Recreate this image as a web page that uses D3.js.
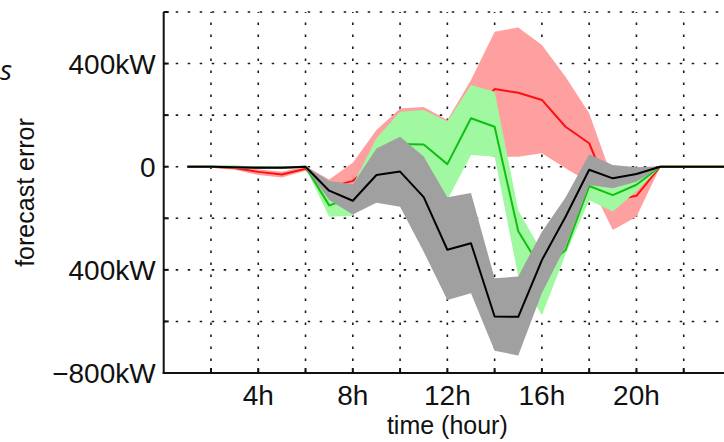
<!DOCTYPE html>
<html>
<head>
<meta charset="utf-8">
<script src="https://cdn.jsdelivr.net/npm/d3@7"></script>
<style>
  html, body { margin: 0; padding: 0; background: #fff; }
  svg { display: block; }
  text { font-family: "Liberation Sans", Arial, sans-serif; fill: #111; }
</style>
</head>
<body>
<svg id="chart" width="724" height="442"></svg>
<script>
// Hour of day for each sample
const hours = [1,2,3,4,5,6,7,8,9,10,11,12,13,14,15,16,17,18,19,20,21,22,23,24];

// Forecast error (kW): red method, mean and spread
const redMean  = [0,0,-5,-20,-30,-8,-80,-55,20,80,100,130,200,301,287,259,155,91,-130,-113,0,0,0,0];
const redHigh  = [4,4,2,-10,-20,2,-50,15,142,226,232,181,336,523,540,472,349,207,-50,-60,2,2,2,2];
const redLow   = [-4,-4,-12,-32,-42,-16,-130,-120,-60,-20,-20,-50,50,39,39,52,-6,-60,-245,-194,-2,-2,-2,-2];

// Green method
const greenMean = [0,0,0,-2,-3,0,-150,-120,-20,88,86,10,188,155,-250,-400,-323,-75,-110,-70,0,0,0,0];
const greenHigh = [4,4,3,2,2,3,-100,-70,110,213,220,175,317,291,-170,-330,-200,-30,-60,-40,2,2,2,2];
const greenLow  = [-4,-4,-6,-8,-8,-4,-194,-190,-80,-40,-50,-129,45,40,-426,-575,-340,-130,-174,-95,-2,-2,-2,-2];

// Black method
const blackMean = [0,0,-2,-4,-4,0,-93,-132,-32,-19,-118,-322,-297,-581,-582,-362,-194,-12,-45,-28,0,0,0,0];
const blackHigh = [4,4,3,2,2,3,-55,-68,71,116,40,-118,-102,-433,-426,-252,-119,48,7,-2,2,2,2,2];
const blackLow  = [-4,-4,-6,-9,-9,-4,-129,-185,-140,-155,-330,-517,-491,-714,-732,-490,-309,-71,-84,-58,-2,-2,-2,-2];

// Axis ticks and labels
const xTicks = [2,4,6,8,10,12,14,16,18,20,22,24];
const xLabels = {4: "4h", 8: "8h", 12: "12h", 16: "16h", 20: "20h"};
const yTicks = [-800,-600,-400,-200,0,200,400,600];
const yLabels = {400: "400kW", 0: "0", "-400": "400kW", "-800": "\u2212800kW"};

const svg = d3.select("#chart");
const pLeft = 163.7, pRight = 731, pTop = 12, pBottom = 373;

const x = d3.scaleLinear().domain([0, 24]).range([pLeft, pRight]);
const y = d3.scaleLinear().domain([-800, 600]).range([pBottom, pTop]);

// Dotted grid
const grid = svg.append("g")
  .attr("stroke", "#1a1a1a").attr("stroke-width", 1.6)
  .attr("stroke-dasharray", "2.5,9.5");
grid.selectAll("line.v").data(xTicks).join("line")
  .attr("x1", d => x(d)).attr("x2", d => x(d))
  .attr("y1", pBottom).attr("y2", pTop);
grid.selectAll("line.h").data(yTicks.filter(d => d > -800)).join("line")
  .attr("x1", pLeft).attr("x2", pRight)
  .attr("y1", d => y(d)).attr("y2", d => y(d));

svg.append("defs").append("clipPath").attr("id", "plot")
  .append("rect").attr("x", pLeft).attr("y", pTop)
  .attr("width", pRight - pLeft).attr("height", pBottom - pTop);

const plot = svg.append("g").attr("clip-path", "url(#plot)");

const area = (hi, lo) => d3.area()
  .x((d, i) => x(hours[i]))
  .y0((d, i) => y(lo[i]))
  .y1((d, i) => y(hi[i]))(hours);
const line = vals => d3.line()
  .x((d, i) => x(hours[i]))
  .y(d => y(d))(vals);

const series = [
  {hi: redHigh, lo: redLow, mean: redMean, fill: "#ffa0a0", stroke: "#ff1010"},
  {hi: greenHigh, lo: greenLow, mean: greenMean, fill: "#a0f8a0", stroke: "#10c010"},
  {hi: blackHigh, lo: blackLow, mean: blackMean, fill: "#a0a0a0", stroke: "#000000"}
];
series.forEach(s => {
  plot.append("path").attr("d", area(s.hi, s.lo)).attr("fill", s.fill);
  plot.append("path").attr("d", line(s.mean)).attr("fill", "none")
    .attr("stroke", s.stroke).attr("stroke-width", 2).attr("stroke-linejoin", "round");
});

// Axes with inward ticks
const axes = svg.append("g").attr("stroke", "#111").attr("stroke-width", 2);
axes.append("line").attr("x1", pLeft).attr("x2", pLeft).attr("y1", pTop).attr("y2", pBottom + 1);
axes.append("line").attr("x1", pLeft - 1).attr("x2", pRight).attr("y1", pBottom).attr("y2", pBottom);
axes.selectAll("line.yt").data(yTicks).join("line")
  .attr("x1", pLeft).attr("x2", pLeft + 5)
  .attr("y1", d => y(d)).attr("y2", d => y(d));
axes.selectAll("line.xt").data(xTicks).join("line")
  .attr("x1", d => x(d)).attr("x2", d => x(d))
  .attr("y1", pBottom).attr("y2", pBottom - 5);

// Tick labels
svg.selectAll("text.yl").data(yTicks.filter(d => yLabels[d] !== undefined)).join("text")
  .attr("x", pLeft - 8).attr("y", d => y(d) + 10)
  .attr("text-anchor", "end").attr("font-size", 28)
  .text(d => yLabels[d]);
svg.selectAll("text.xl").data(xTicks.filter(d => xLabels[d] !== undefined)).join("text")
  .attr("x", d => x(d)).attr("y", 405)
  .attr("text-anchor", "middle").attr("font-size", 28)
  .text(d => xLabels[d]);

// Axis titles
svg.append("text").attr("x", (pLeft + pRight) / 2).attr("y", 434)
  .attr("text-anchor", "middle").attr("font-size", 25).text("time (hour)");
svg.append("text")
  .attr("transform", `translate(34,${(pTop + pBottom) / 2}) rotate(-90)`)
  .attr("text-anchor", "middle").attr("font-size", 25).text("forecast error");

// Trailing letter of the text block on the left
svg.append("text").attr("x", 0).attr("y", 80)
  .attr("text-anchor", "start").attr("font-size", 28).attr("font-style", "italic")
  .style("font-family", "'Open Sans', sans-serif").text("s");
</script>
</body>
</html>
